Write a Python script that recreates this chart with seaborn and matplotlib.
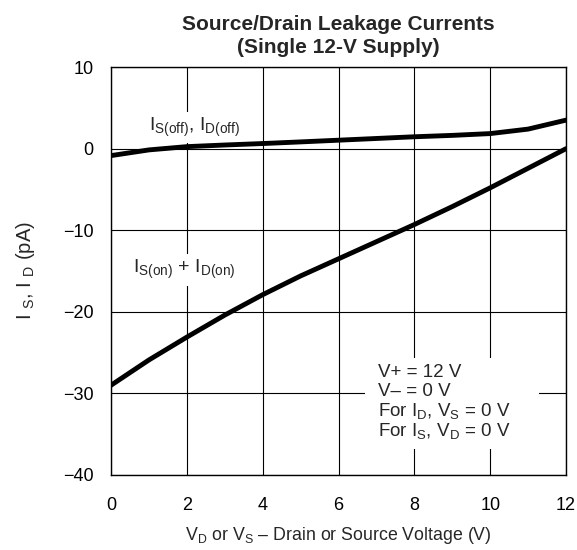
import matplotlib
matplotlib.use('Agg')
import matplotlib.pyplot as plt
import numpy as np
import pandas as pd
import seaborn as sns

# values
voltage = [0, 1, 2, 3, 4, 5, 6, 7, 8, 9, 10, 11, 12]
i_off = [-0.85, -0.15, 0.25, 0.45, 0.63, 0.83, 1.04, 1.25, 1.46, 1.63, 1.85, 2.4, 3.5]
i_on = [-29.0, -25.9, -23.1, -20.4, -17.9, -15.6, -13.5, -11.4, -9.3, -7.1, -4.8, -2.4, 0.0]

conditions = ['V+ = 12 V', 'V\u2013 = 0 V',
              'For I$_{D}$, V$_{S}$ = 0 V', 'For I$_{S}$, V$_{D}$ = 0 V']

df = pd.concat([
    pd.DataFrame({'V': voltage, 'I': i_off, 'curve': 'off'}),
    pd.DataFrame({'V': voltage, 'I': i_on, 'curve': 'on'}),
])

sns.set_theme(style='white')
plt.rcParams['font.family'] = ['Liberation Sans', 'DejaVu Sans']
plt.rcParams['mathtext.fontset'] = 'custom'
plt.rcParams['mathtext.rm'] = 'Liberation Sans'
plt.rcParams['mathtext.it'] = 'Liberation Sans'
plt.rcParams['mathtext.default'] = 'rm'

fig = plt.figure(figsize=(5.77, 5.5), dpi=100)
ax = fig.add_axes([0.1924, 0.1364, 0.7886, 0.7416])

ax.set_xlim(0, 12)
ax.set_ylim(-40, 10)
ax.set_xticks(range(0, 13, 2))
ax.set_yticks(range(-40, 11, 10))
ax.set_yticklabels(['\u221240', '\u221230', '\u221220', '\u221210', '0', '10'])
ax.grid(True, color='black', linewidth=0.8)
ax.set_axisbelow(True)
for s in ax.spines.values():
    s.set_color('black')
    s.set_linewidth(1.0)
ax.tick_params(length=0, labelsize=13, colors='black')
ax.tick_params(axis='x', pad=16)
ax.tick_params(axis='y', pad=12.5)

sns.lineplot(data=df, x='V', y='I', units='curve', estimator=None,
             color='black', linewidth=3.5, ax=ax, legend=False, zorder=3)

ax.set_xlabel('V$_{D}$ or V$_{S}$ \u2013 Drain or Source Voltage (V)', fontsize=12.8, labelpad=8)
ax.set_ylabel('I $_{S}$, I $_{D}$ (pA)', fontsize=14.5)
ax.yaxis.set_label_coords(-0.162, 0.5)
ax.set_title('Source/Drain Leakage Currents\n(Single 12-V Supply)',
             fontsize=15, fontweight='bold', pad=10.5, linespacing=1.21)

box = dict(facecolor='white', edgecolor='none', pad=3)
ax.text(1.0, 2.18, 'I$_{S(off)}$, I$_{D(off)}$', fontsize=14, va='baseline', bbox=box, zorder=2)
ax.text(0.58, -15.3, 'I$_{S(on)}$ + I$_{D(on)}$', fontsize=14, va='baseline', bbox=box, zorder=2)

# white panel behind the test conditions
ax.add_patch(plt.Rectangle((6.7, -36.8), 4.6, 11.2, facecolor='white',
                           edgecolor='none', zorder=1.5))
for k, line in enumerate(conditions):
    ax.text(7.03, -27.95 - 2.42 * k, line, fontsize=13.5, va='baseline', zorder=2)

fig.savefig('out.png', dpi=100)
